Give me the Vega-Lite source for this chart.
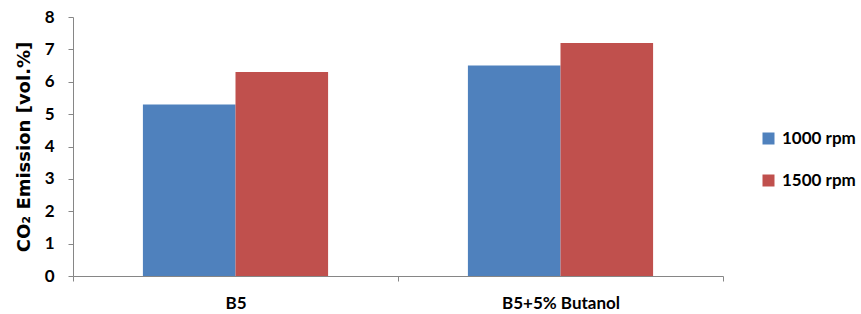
{
  "$schema": "https://vega.github.io/schema/vega-lite/v6.json",
  "width": 650,
  "height": 259,
  "autosize": {"type": "none"},
  "padding": {"left": 73, "top": 17, "right": 138, "bottom": 38},
  "background": "white",
  "config": {"view": {"stroke": null}, "font": "Lato"},
  "data": {
    "values": [
      {"fuel": "B5", "speed": "1000 rpm", "co2": 5.3},
      {"fuel": "B5", "speed": "1500 rpm", "co2": 6.3},
      {"fuel": "B5+5% Butanol", "speed": "1000 rpm", "co2": 6.5},
      {"fuel": "B5+5% Butanol", "speed": "1500 rpm", "co2": 7.2}
    ]
  },
  "mark": {"type": "bar"},
  "encoding": {
    "x": {
      "field": "fuel",
      "type": "nominal",
      "sort": null,
      "scale": {"paddingInner": 0, "paddingOuter": 0},
      "axis": {
        "title": null,
        "labelAngle": 0,
        "labelFont": "Lato",
        "labelFontWeight": "bold",
        "labelFontSize": 17,
        "labelColor": "black",
        "labelPadding": 14,
        "domainColor": "#868686",
        "tickColor": "#868686",
        "tickBand": "extent",
        "tickSize": 5
      }
    },
    "xOffset": {"field": "speed", "type": "nominal", "scale": {"paddingInner": 0, "paddingOuter": 0.755}},
    "y": {
      "field": "co2",
      "type": "quantitative",
      "scale": {"domain": [0, 8]},
      "axis": {
        "title": "CO₂ Emission [vol.%]",
        "titleFont": "DejaVu Sans",
        "titleFontWeight": "bold",
        "titleFontSize": 18,
        "titleColor": "black",
        "titlePadding": 11,
        "values": [0, 1, 2, 3, 4, 5, 6, 7, 8],
        "grid": false,
        "labelFont": "Lato",
        "labelFontWeight": "bold",
        "labelFontSize": 17,
        "labelColor": "black",
        "labelPadding": 14,
        "domainColor": "#868686",
        "tickColor": "#868686",
        "tickSize": 5
      }
    },
    "color": {
      "field": "speed",
      "type": "nominal",
      "scale": {"domain": ["1000 rpm", "1500 rpm"], "range": ["#4F81BD", "#C0504D"]},
      "legend": {
        "title": null,
        "orient": "none",
        "legendX": 687,
        "legendY": 113,
        "symbolType": "square",
        "symbolSize": 144,
        "symbolStrokeWidth": 0,
        "rowPadding": 24,
        "labelFont": "Lato",
        "labelFontWeight": "bold",
        "labelFontSize": 17,
        "labelColor": "black",
        "labelOffset": 5
      }
    }
  }
}
